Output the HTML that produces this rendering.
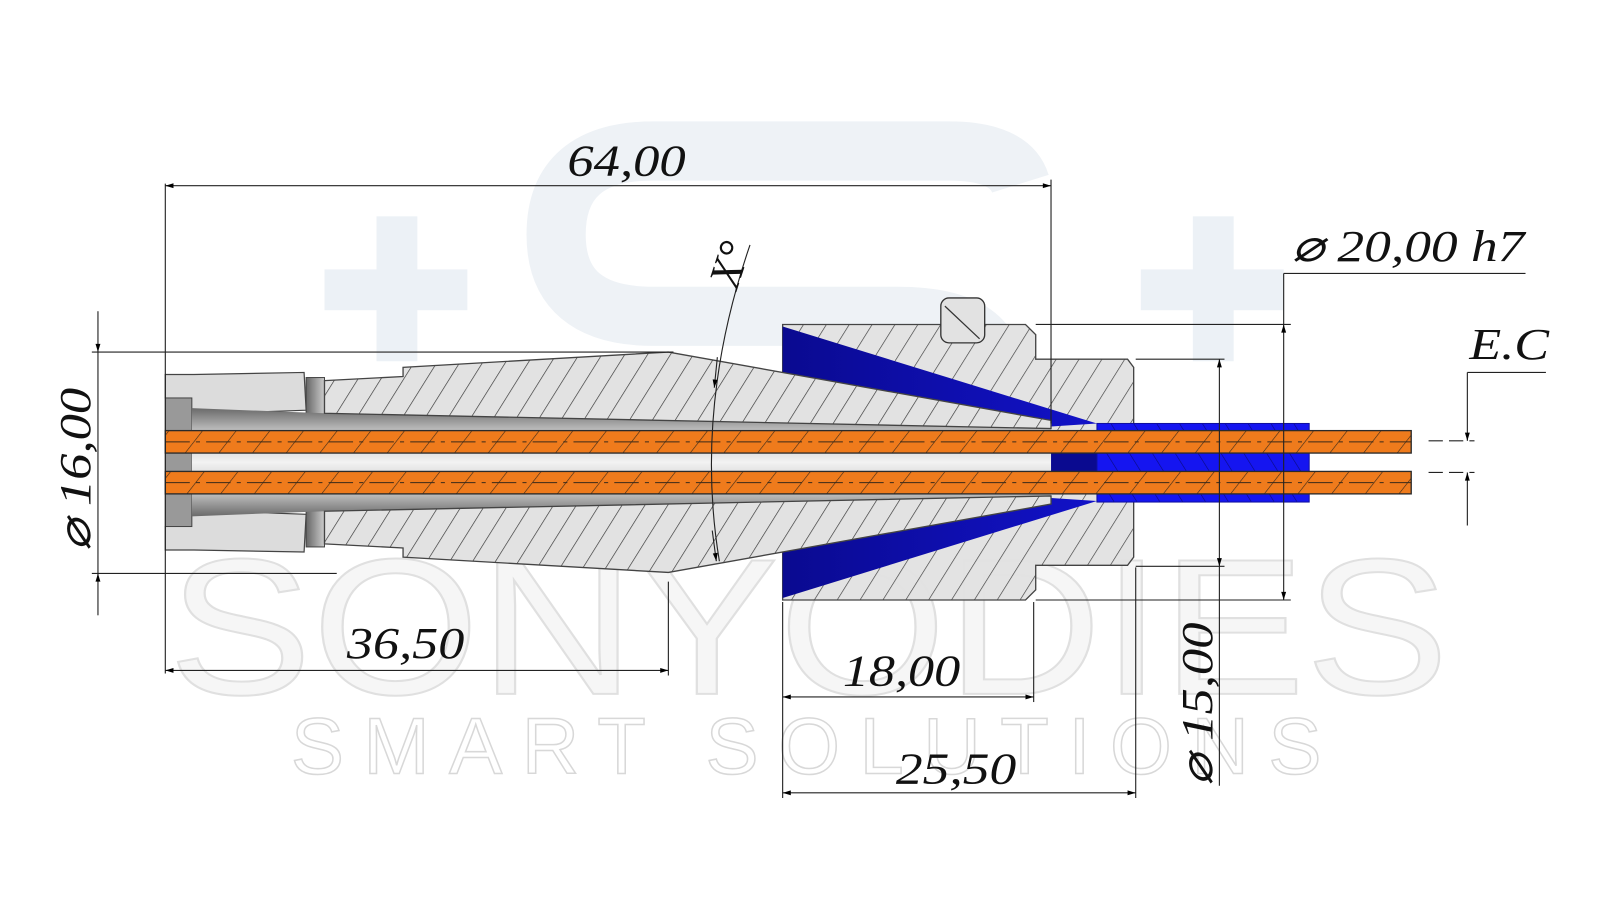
<!DOCTYPE html>
<html><head><meta charset="utf-8"><style>html,body{margin:0;padding:0;background:#fff}svg{display:block}</style></head>
<body>
<svg width="1600" height="900" viewBox="0 0 1568 882" preserveAspectRatio="none" xmlns="http://www.w3.org/2000/svg">
<defs>
<pattern id="h" patternUnits="userSpaceOnUse" width="19" height="19" patternTransform="rotate(32)">
<rect width="19" height="19" fill="#e2e2e2"/><line x1="0" y1="0" x2="0" y2="19" stroke="#333" stroke-width="1.3"/></pattern>
<pattern id="hb" patternUnits="userSpaceOnUse" width="19" height="19" patternTransform="rotate(-32)">
<rect width="19" height="19" fill="#1515f0"/><line x1="0" y1="0" x2="0" y2="19" stroke="#0a0a80" stroke-width="1.2"/></pattern>
<pattern id="ho" patternUnits="userSpaceOnUse" width="26" height="26" patternTransform="rotate(38)">
<rect width="26" height="26" fill="#ef7b1c"/><line x1="0" y1="0" x2="0" y2="26" stroke="#3a2a1a" stroke-width="1.2"/></pattern>
<linearGradient id="bore" x1="0" y1="0" x2="0" y2="1">
<stop offset="0" stop-color="#6a6a6a"/><stop offset="0.2" stop-color="#bcbcbc"/><stop offset="0.5" stop-color="#f2f2f2"/><stop offset="0.8" stop-color="#bcbcbc"/><stop offset="1" stop-color="#6a6a6a"/></linearGradient>
<linearGradient id="band" x1="0" y1="0" x2="1" y2="0"><stop offset="0" stop-color="#666"/><stop offset="1" stop-color="#ccc"/></linearGradient>
<linearGradient id="blu" x1="0" y1="0" x2="1" y2="0"><stop offset="0" stop-color="#0a0a90"/><stop offset="1" stop-color="#1212c8"/></linearGradient>
<marker id="a" viewBox="0 0 10 10" refX="10" refY="5" markerWidth="16" markerHeight="8" markerUnits="userSpaceOnUse" orient="auto-start-reverse"><path d="M0,2 L10,5 L0,8 z" fill="#000"/></marker>
</defs>

<!-- watermark -->
<g fill="#ecf1f6">
<rect x="318" y="264" width="140" height="40"/><rect x="369" y="212" width="40" height="142"/>
<rect x="1118" y="264" width="140" height="40"/><rect x="1169" y="212" width="40" height="142"/>
</g>
<path d="M1000,180 Q990,148 930,148 L640,148 Q545,148 545,230 Q545,310 640,310 L880,310 Q975,310 975,370 Q975,420 900,420" fill="none" stroke="#eef2f6" stroke-width="58"/>
<text x="165" y="680" font-family="Liberation Sans, sans-serif" font-size="190" textLength="1255" lengthAdjust="spacingAndGlyphs" fill="#f0f0f0" fill-opacity="0.6" stroke="#e0e0e0" stroke-width="2">SONYODIES</text>
<text x="285" y="758" font-family="Liberation Sans, sans-serif" font-size="78" textLength="1010" lengthAdjust="spacing" fill="none" stroke="#d8d8d8" stroke-width="1.5">SMART SOLUTIONS</text>

<!-- die -->
<path d="M767,318 L1005,318 L1015,328 L1015,352 L1105,352 L1111,360 L1111,546 L1105,554 L1015,554 L1015,578 L1005,588 L767,588 Z" fill="url(#h)" stroke="#444" stroke-width="1.3" fill-opacity="0.95"/>
<rect x="922" y="292" width="43" height="44" rx="8" fill="#e2e2e2" stroke="#333" stroke-width="1.3"/>
<line x1="926" y1="300" x2="960" y2="332" stroke="#333" stroke-width="1.2"/>
<path d="M767,320 L1075,415 L1030,418 L767,365 Z" fill="url(#blu)"/>
<path d="M767,586 L1075,491 L1030,488 L767,541 Z" fill="url(#blu)"/>
<rect x="1030" y="440" width="50" height="26" fill="#0a0a90"/>
<rect x="1075" y="415" width="208" height="77" fill="url(#hb)" stroke="#1010a0"/>

<!-- left body -->
<path d="M162,367 L190,367 L298,365 L300,402 L188,406 L162,390 Z" fill="#dcdcdc" stroke="#444" stroke-width="1.2"/>
<path d="M162,539 L190,539 L298,541 L300,504 L188,500 L162,516 Z" fill="#dcdcdc" stroke="#444" stroke-width="1.2"/>
<rect x="162" y="390" width="26" height="126" fill="#999" stroke="#444"/>
<rect x="300" y="370" width="18" height="166" fill="url(#band)" stroke="#444"/>
<path d="M188,400 L318,405 L1030,420 L1030,486 L318,501 L188,506 Z" fill="url(#bore)"/>
<path d="M318,373 L395,369 L395,360 L655,345 L1030,412 L1030,420 L318,405 Z" fill="url(#h)" stroke="#444" stroke-width="1.3"/>
<path d="M318,533 L395,537 L395,546 L655,561 L1030,494 L1030,486 L318,501 Z" fill="url(#h)" stroke="#444" stroke-width="1.3"/>

<!-- rods -->
<g stroke="#2a2a2a" stroke-width="1.3">
<rect x="162" y="422" width="1221" height="22" fill="url(#ho)"/>
<rect x="162" y="462" width="1221" height="22" fill="url(#ho)"/>
</g>
<g stroke="#3a2a1a" stroke-width="1" stroke-dasharray="24,6,4,6">
<line x1="162" y1="433" x2="1383" y2="433"/><line x1="162" y1="473" x2="1383" y2="473"/>
</g>

<!-- dimension lines -->
<g stroke="#222" stroke-width="1.1" fill="none">
<line x1="162" y1="180" x2="162" y2="660"/>
<line x1="1030" y1="176" x2="1030" y2="415"/>
<line x1="162" y1="182" x2="1030" y2="182" marker-start="url(#a)" marker-end="url(#a)"/>
<line x1="655" y1="570" x2="655" y2="662"/>
<line x1="162" y1="657" x2="655" y2="657" marker-start="url(#a)" marker-end="url(#a)"/>
<line x1="767" y1="590" x2="767" y2="782"/>
<line x1="1013" y1="590" x2="1013" y2="688"/>
<line x1="767" y1="683" x2="1013" y2="683" marker-start="url(#a)" marker-end="url(#a)"/>
<line x1="1113" y1="556" x2="1113" y2="782"/>
<line x1="767" y1="777" x2="1113" y2="777" marker-start="url(#a)" marker-end="url(#a)"/>
<line x1="90" y1="345" x2="660" y2="345"/>
<line x1="90" y1="562" x2="330" y2="562"/>
<line x1="96" y1="305" x2="96" y2="345" marker-end="url(#a)"/>
<line x1="96" y1="603" x2="96" y2="562" marker-end="url(#a)"/>
<line x1="96" y1="345" x2="96" y2="562"/>
<line x1="1015" y1="318" x2="1265" y2="318"/>
<line x1="1015" y1="588" x2="1265" y2="588"/>
<line x1="1258" y1="318" x2="1258" y2="588" marker-start="url(#a)" marker-end="url(#a)"/>
<line x1="1258" y1="318" x2="1258" y2="268"/>
<line x1="1258" y1="268" x2="1495" y2="268"/>
<line x1="1113" y1="352" x2="1200" y2="352"/>
<line x1="1113" y1="555" x2="1200" y2="555"/>
<line x1="1195" y1="352" x2="1195" y2="555" marker-start="url(#a)" marker-end="url(#a)"/>
<line x1="1195" y1="555" x2="1195" y2="770"/>
<line x1="1400" y1="432" x2="1445" y2="432" stroke-dasharray="14,6"/>
<line x1="1400" y1="463" x2="1445" y2="463" stroke-dasharray="14,6"/>
<line x1="1438" y1="365" x2="1438" y2="432" marker-end="url(#a)"/>
<line x1="1438" y1="515" x2="1438" y2="463" marker-end="url(#a)"/>
<line x1="1438" y1="365" x2="1515" y2="365"/>
<path d="M735,240 Q680,400 705,550"/>
<line x1="703" y1="350" x2="700" y2="380" marker-end="url(#a)"/>
<line x1="698" y1="520" x2="702" y2="550" marker-end="url(#a)"/>
</g>

<g font-family="Liberation Serif, serif" font-style="italic" font-size="44" fill="#111">
<text x="556" y="172" textLength="116" lengthAdjust="spacingAndGlyphs">64,00</text>
<text x="340" y="645" textLength="115" lengthAdjust="spacingAndGlyphs">36,50</text>
<text x="826" y="672" textLength="115" lengthAdjust="spacingAndGlyphs">18,00</text>
<text x="878" y="768" textLength="118" lengthAdjust="spacingAndGlyphs">25,50</text>
<text x="1266" y="256" textLength="228" lengthAdjust="spacingAndGlyphs">⌀ 20,00 h7</text>
<text x="1440" y="352" textLength="78" lengthAdjust="spacingAndGlyphs">E.C</text>
<text transform="translate(88,540) rotate(-90)" textLength="160" lengthAdjust="spacingAndGlyphs">⌀ 16,00</text>
<text transform="translate(1188,770) rotate(-90)" textLength="160" lengthAdjust="spacingAndGlyphs">⌀ 15,00</text>
<text transform="translate(722,285) rotate(-72)">X°</text>
</g>
</svg>
</body></html>
